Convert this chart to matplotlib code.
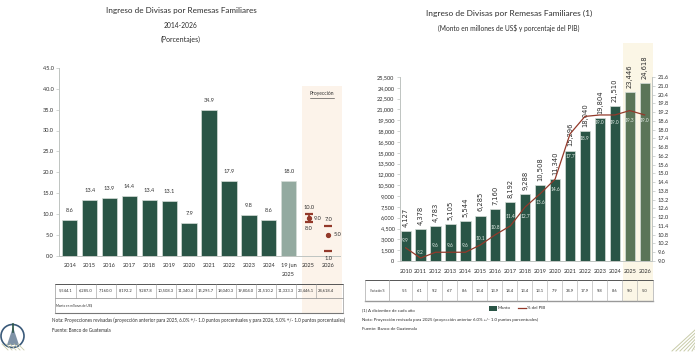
import matplotlib
matplotlib.use("Agg")
import matplotlib.pyplot as plt
from matplotlib.patches import Rectangle, Circle, Polygon

W, H = 695, 361
plt.rcParams['font.family'] = ['Lato', 'DejaVu Sans']

# ---------- data: left chart ----------
left_cats = ['2014', '2015', '2016', '2017', '2018', '2019', '2020', '2021', '2022', '2023', '2024', '19 jun\n2025', '2025', '2026']
left_vals = [8.6, 13.4, 13.9, 14.4, 13.4, 13.1, 7.9, 34.9, 17.9, 9.8, 8.6, 18.0]
left_amount = ['5,544.1', '6,285.0', '7,160.0', '8,192.2', '9,287.8', '10,508.3', '11,340.4', '15,295.7',
               '18,040.3', '19,804.0', '21,510.2', '11,333.3', '23,446.1', '24,618.4']
proj_2025 = [8.0, 9.0, 10.0]
proj_2026 = [1.0, 5.0, 7.0]
left_ticks = [0, 5, 10, 15, 20, 25, 30, 35, 40, 45]

# ---------- data: right chart ----------
right_cats = ['2010', '2011', '2012', '2013', '2014', '2015', '2016', '2017', '2018', '2019', '2020',
              '2021', '2022', '2023', '2024', '2025', '2026']
monto = [4127, 4378, 4783, 5105, 5544, 6285, 7160, 8192, 9288, 10508, 11340, 15296, 18040, 19804, 21510, 23446, 24618]
pib = [9.9, 9.2, 9.6, 9.6, 9.6, 10.1, 10.8, 11.4, 12.7, 13.6, 14.6, 17.7, 18.9, 19.0, 19.0, 19.3, 19.0]
pib_label_offset = [7, 6, 7, 7, 7, 6, 7, 9, -10, -9, -10, -23, -22, -8, -8, -10, -6]
variacion = ['5.5', '6.1', '9.2', '6.7', '8.6', '13.4', '13.9', '14.4', '13.4', '13.1', '7.9', '34.9', '17.9', '9.8', '8.6', '9.0', '5.0']
right_ticks = [i * 1500 for i in range(18)]
pib_ticks = [9.0 + 0.6 * i for i in range(22)]

DARK, PALE, OLIVE = '#2A5546', '#93AAA0', '#5B7558'
BROWN, GREY, TXT = '#93392A', '#BFC4C1', '#2E2E2E'
EDGE = '#D5DDD8'
TICK = 4.1

fig = plt.figure(figsize=(W / 100, H / 100), dpi=100, facecolor='white')
rend = fig.canvas.get_renderer()


def axes_px(x0, y0, x1, y1):
    return fig.add_axes([x0 / W, 1 - y1 / H, (x1 - x0) / W, (y1 - y0) / H])


bg = axes_px(0, 0, W, H)
bg.set_xlim(0, W)
bg.set_ylim(H, 0)
bg.axis('off')
bg.set_zorder(0)
bg.add_patch(Rectangle((302, 86), 40, 227, fc='#FCF3EA', ec='none'))
bg.add_patch(Rectangle((623, 43), 30, 259, fc='#FBF6E6', ec='none'))


def fit(x, y, s, width, ha='center'):
    """Real text whose font size is chosen so it spans the given pixel width."""
    t = bg.text(x, y, s, fontsize=10, color=TXT, ha=ha, va='center')
    w = t.get_window_extent(rend).width
    t.set_fontsize(10 * width / w)
    return t


def style(ax):
    ax.patch.set_alpha(0)
    for s in ('top', 'right'):
        ax.spines[s].set_visible(False)
    for s in ax.spines.values():
        s.set_color(GREY)
        s.set_linewidth(0.7)
    ax.tick_params(length=2, width=0.5, color=GREY, labelsize=TICK, labelcolor=TXT, pad=2)


# ---------- left chart ----------
a = axes_px(59, 68, 340, 255.5)
style(a)
a.set_zorder(2)
a.set_xlim(-0.54, 13.58)
a.set_ylim(0, 45)
a.set_yticks(left_ticks)
a.set_yticklabels([f'{v:.1f}' for v in left_ticks])
a.set_xticks(range(len(left_cats)))
a.set_xticklabels(left_cats, fontsize=TICK, linespacing=1.9)
a.tick_params(axis='x', length=0, pad=5.5)
lc = [DARK] * 11 + [PALE]
a.bar(range(12), left_vals, width=0.77, color=lc, edgecolor=EDGE, linewidth=0.5)
for i, v in enumerate(left_vals):
    a.annotate(f'{v:.1f}', (i, v), xytext=(0, 5), textcoords='offset points', ha='center', va='bottom', fontsize=TICK, color=TXT)

for xpos, (lo, mid, hi) in zip((12, 13), (proj_2025, proj_2026)):
    a.hlines([lo, hi], xpos - 0.2, xpos + 0.2, color=BROWN, lw=1.6)
    a.plot([xpos], [mid], 'o', color=BROWN, ms=2.8)
    a.annotate(f'{hi:.1f}', (xpos, hi), xytext=(0, 3), textcoords='offset points', ha='center', va='bottom', fontsize=TICK, color=TXT)
    a.annotate(f'{lo:.1f}', (xpos, lo), xytext=(0, -3), textcoords='offset points', ha='center', va='top', fontsize=TICK, color=TXT)
    a.annotate(f'{mid:.1f}', (xpos, mid), xytext=(4, 0), textcoords='offset points', ha='left', va='center', fontsize=TICK, color=TXT)
a.vlines(12, proj_2025[0], proj_2025[2], color=BROWN, lw=1.2)

fit(322, 94, 'Proyección', 24)
bg.plot([310, 334], [98, 98], color=TXT, lw=0.4)
fit(181, 11, 'Ingreso de Divisas por Remesas Familiares', 150)
fit(181, 25, '2014-2026', 34)
fit(181, 39, '(Porcentajes)', 40)

# left table
tx0, tx1, ty0, ty1, ty2 = 55, 343, 283.5, 298, 313
bg.plot([tx0, tx1], [ty0, ty0], color='#555555', lw=0.7)
bg.plot([tx0, tx1], [ty1, ty1], color='#888888', lw=0.5)
bg.plot([tx0, tx1], [ty2, ty2], color='#777777', lw=0.8)
bg.plot([tx0, tx0], [ty0, ty2], color='#999999', lw=0.5)
bg.plot([tx1, tx1], [ty0, ty2], color='#999999', lw=0.5)
for i, s in enumerate(left_amount):
    cx = 65.5 + 20.0 * i
    if i:
        bg.plot([cx - 10, cx - 10], [ty0, ty1], color='#999999', lw=0.4)
    bg.text(cx, (ty0 + ty1) / 2, s, fontsize=2.9, color=TXT, ha='center', va='center')
fit(56, (ty1 + ty2) / 2, 'Monto en millones de US$', 36, ha='left')
fit(52, 320, 'Nota: Proyecciones revisadas (proyección anterior para 2025, 6.0% +/- 1.0 puntos porcentuales y para 2026, 5.0% +/- 1.0 puntos porcentuales)', 292, ha='left')
fit(52, 330, 'Fuente: Banco de Guatemala', 59, ha='left')

# ---------- right chart ----------
b = axes_px(400, 77, 651.7, 261)
style(b)
b.set_zorder(2)
b.set_xlim(-0.38, 16.47)
b.set_ylim(0, 25500)
b.set_yticks(right_ticks)
b.set_yticklabels([f'{v:,}' for v in right_ticks])
b.set_xticks(range(len(right_cats)))
b.set_xticklabels(right_cats, fontsize=TICK)
b.tick_params(axis='x', length=0, pad=6)
rc = [DARK] * 15 + [OLIVE] * 2
b.bar(range(17), monto, width=0.69, color=rc, edgecolor=EDGE, linewidth=0.5)
for i, v in enumerate(monto):
    b.annotate(f'{v:,}', (i, v), xytext=(0, 3), textcoords='offset points', rotation=90, ha='center', va='bottom',
               fontsize=4.9, color=TXT, family='DejaVu Sans')

c = b.twinx()
c.patch.set_alpha(0)
for s in ('top', 'left', 'bottom'):
    c.spines[s].set_visible(False)
c.spines['right'].set_color(GREY)
c.spines['right'].set_linewidth(0.7)
c.set_ylim(9.0, 21.6)
c.set_yticks(pib_ticks)
c.set_yticklabels([f'{v:.1f}' for v in pib_ticks])
c.tick_params(length=2, width=0.5, color=GREY, labelsize=TICK, labelcolor=TXT, pad=2)
c.plot(range(17), pib, color=BROWN, lw=0.9)
for i, (v, o) in enumerate(zip(pib, pib_label_offset)):
    c.annotate(f'{v:.1f}', (i, v), xytext=(0, o * 0.72), textcoords='offset points', ha='center', va='center',
               fontsize=3.5, color='#E4ECE7')

fit(509, 13, 'Ingreso de Divisas por Remesas Familiares (1)', 166)
fit(509, 28, '(Monto en millones de US$ y porcentaje del PIB)', 140)

# right table
rx0, rx1, ry0, ry1 = 365, 653, 280, 301
bg.plot([rx0, rx1], [ry0, ry0], color='#555555', lw=0.7)
bg.plot([rx0, rx1], [ry1, ry1], color='#999999', lw=1.0)
bg.plot([rx0, rx0], [ry0, ry1], color='#aaaaaa', lw=0.5)
bg.plot([rx1, rx1], [ry0, ry1], color='#aaaaaa', lw=0.5)
bg.plot([389, 389], [ry0, ry1], color='#aaaaaa', lw=0.5)
fit(377, (ry0 + ry1) / 2, 'Variación %', 14)
for i, s in enumerate(variacion):
    cx = 404.5 + 15.0 * i
    if i:
        bg.plot([cx - 7.5, cx - 7.5], [ry0, ry1], color='#aaaaaa', lw=0.4)
    bg.text(cx, (ry0 + ry1) / 2, s, fontsize=2.9, color=TXT, ha='center', va='center')

# legend
bg.add_patch(Rectangle((489, 306), 8, 4.5, fc=DARK, ec='none'))
fit(498, 308, 'Monto', 13, ha='left')
bg.plot([518, 526], [308, 308], color=BROWN, lw=0.9)
fit(527, 308, '% del PIB', 18, ha='left')

fit(362, 310, '(1) A diciembre de cada año', 53, ha='left')
fit(362, 319.5, 'Nota: Proyección revisada para 2025 (proyección anterior 6.0% +/- 1.0 puntos porcentuales)', 177, ha='left')
fit(362, 328.5, 'Fuente: Banco de Guatemala', 56, ha='left')

# ---------- decoration: seal and corner hatching ----------
bg.add_patch(Circle((12.5, 336), 11.5, fc='white', ec='#3A5A7A', lw=1.2))
bg.add_patch(Polygon([[7, 345], [13, 327], [19, 345]], closed=True, fc='#7F93A6', ec='none'))
bg.plot([13, 13], [324, 332], color='#2A5546', lw=1.2)
for k in range(5):
    bg.plot([2 + 4 * k, 8 + 4 * k], [344, 350], color='#C8CBA8', lw=0.6)
for k in range(7):
    bg.plot([672 + k * 4, 695], [351, 330 + k * 3.2], color='#C8CBA8', lw=0.7)

fig.savefig('out.png', dpi=100, facecolor='white')
